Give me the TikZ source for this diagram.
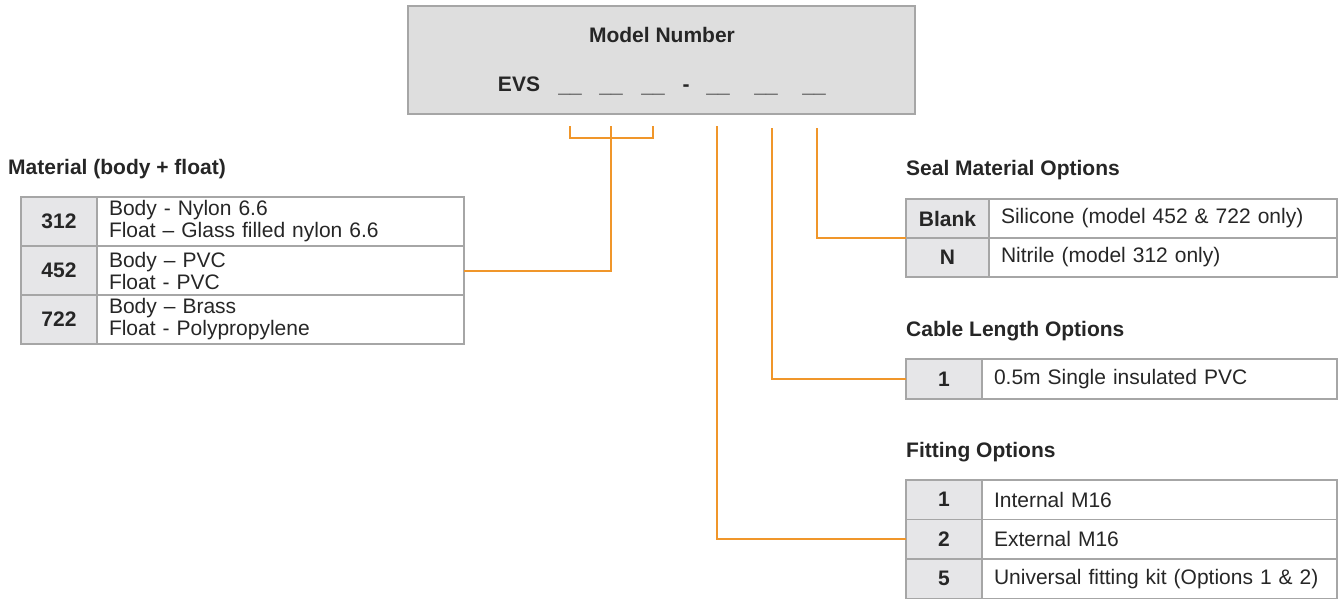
\documentclass[tikz,border=0pt]{standalone}
\usepackage{fontspec}
\setmainfont{Liberation Sans}
\usetikzlibrary{calc}
\definecolor{bordc}{HTML}{A6A6A6}
\definecolor{keyfill}{HTML}{E6E6E8}
\definecolor{boxfill}{HTML}{DEDEDE}
\definecolor{txt}{HTML}{262626}
\definecolor{orng}{HTML}{F0962A}
\begin{document}
\begin{tikzpicture}[x=1pt,y=-1pt,
  every node/.style={text=txt, font=\fontsize{21}{22}\selectfont},
  boldtxt/.style={font=\bfseries\fontsize{21}{22}\selectfont, inner sep=0},
  heading/.style={boldtxt, anchor=west},
  key/.style={draw=bordc, line width=1.8pt, fill=keyfill, anchor=north west, inner sep=0, outer sep=0,
              font=\bfseries\fontsize{21}{22}\selectfont, align=center},
  desc/.style={draw=bordc, line width=1.8pt, anchor=north west, inner ysep=0, inner xsep=12pt,
               outer sep=0, align=left},
  conn/.style={draw=orng, line width=2pt}]
\path[use as bounding box] (0,0) rectangle (1340,598);

% model number box
\node[draw=bordc, line width=1.5pt, fill=boxfill, anchor=north west, minimum width=507pt,
      minimum height=108pt, inner sep=0, outer sep=0] (model) at (408,6) {};
\node[boldtxt] (title) at (662,35) {Model Number};
\node[boldtxt, anchor=base] (evs) at (519,91.5) {EVS};
\node[boldtxt, anchor=base] (b1) at (570,92) {\_\_};
\node[boldtxt, anchor=base] (b2) at (611,92) {\_\_};
\node[boldtxt, anchor=base] (b3) at (653,92) {\_\_};
\node[boldtxt, anchor=base] (dash) at (686,91.5) {-};
\node[boldtxt, anchor=base] (b4) at (718,92) {\_\_};
\node[boldtxt, anchor=base] (b5) at (766,92) {\_\_};
\node[boldtxt, anchor=base] (b6) at (814,92) {\_\_};

% headings
\node[heading] (hmat) at (8,169) {Material (body + float)};
\node[heading] (hseal) at (906,170) {Seal Material Options};
\node[heading] (hcab) at (906,331) {Cable Length Options};
\node[heading] (hfit) at (906,452) {Fitting Options};

% material table
\node[key, minimum width=76pt, minimum height=49pt] (m1k) at (21,197) {312};
\node[desc, text width=343pt, minimum height=49pt] (m1d) at (m1k.north east) {Body - Nylon 6.6\\Float – Glass filled nylon 6.6};
\node[key, minimum width=76pt, minimum height=49pt] (m2k) at (21,246) {452};
\node[desc, text width=343pt, minimum height=49pt] (m2d) at (m2k.north east) {Body – PVC\\Float - PVC};
\node[key, minimum width=76pt, minimum height=49pt] (m3k) at (21,295) {722};
\node[desc, text width=343pt, minimum height=49pt] (m3d) at (m3k.north east) {Body – Brass\\Float - Polypropylene};

% seal table
\node[key, minimum width=83pt, minimum height=39pt] (s1k) at (906,199) {Blank};
\node[desc, text width=324pt, minimum height=39pt] (s1d) at (s1k.north east) {Silicone (model 452 \& 722 only)};
\node[key, minimum width=83pt, minimum height=39pt] (s2k) at (906,238) {N};
\node[desc, text width=324pt, minimum height=39pt] (s2d) at (s2k.north east) {Nitrile (model 312 only)};

% cable table
\node[key, minimum width=76pt, minimum height=40pt] (c1k) at (906,359) {1};
\node[desc, text width=331pt, minimum height=40pt] (c1d) at (c1k.north east) {0.5m Single insulated PVC};

% fitting table
\node[key, minimum width=76pt, minimum height=39.5pt] (f1k) at (906,480) {1};
\node[desc, text width=331pt, minimum height=39.5pt] (f1d) at (f1k.north east) {Internal M16};
\node[key, minimum width=76pt, minimum height=39.5pt] (f2k) at (906,519.5) {2};
\node[desc, text width=331pt, minimum height=39.5pt] (f2d) at (f2k.north east) {External M16};
\node[key, minimum width=76pt, minimum height=39.5pt] (f3k) at (906,559) {5};
\node[desc, text width=331pt, minimum height=39.5pt] (f3d) at (f3k.north east) {Universal fitting kit (Options 1 \& 2)};

% connector start points
\coordinate (t1) at ($(b1.south|-model.south)+(0,12)$);
\coordinate (t2) at ($(b2.south|-model.south)+(0,12)$);
\coordinate (t3) at ($(b3.south|-model.south)+(0,12)$);
\coordinate (t4) at ($(b4.south|-model.south)+(-1,12)$);
\coordinate (t5) at ($(b5.south|-model.south)+(6,14)$);
\coordinate (t6) at ($(b6.south|-model.south)+(3,14)$);

% connectors
\draw[conn] (t1) -- ++(0,12) -| (t3);
\draw[conn] (t2) |- (m2d.east);
\draw[conn] (t4) |- (f2k.west);
\draw[conn] (t5) |- (c1k.west);
\draw[conn] (t6) |- (s1k.south west);
\end{tikzpicture}
\end{document}
